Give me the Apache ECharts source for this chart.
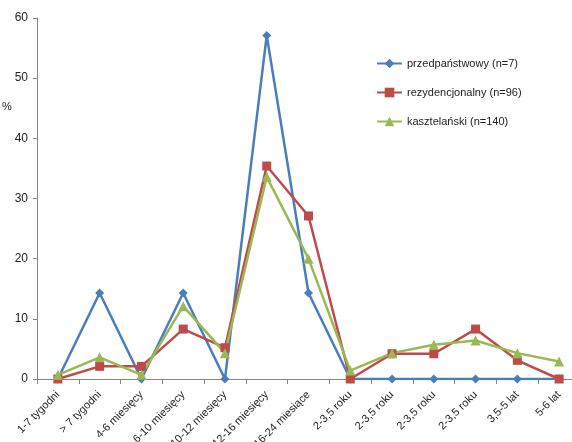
<!DOCTYPE html>
<html>
<head>
<meta charset="utf-8">
<script src="https://cdn.jsdelivr.net/npm/echarts@6/dist/echarts.min.js"></script>
<style>
html,body{margin:0;padding:0;background:#fff;}
#chart{width:572px;height:442px;}
</style>
</head>
<body>
<div id="chart"></div>
<script>
// Age groups on the category axis
const categories = ['1-7 tygodni', '> 7 tygodni', '4-6 miesięcy', '6-10 miesięcy', '10-12 miesięcy',
  '12-16 miesięcy', '16-24 miesiące', '2-3,5 roku', '2-3,5 roku', '2-3,5 roku', '2-3,5 roku',
  '3,5-5 lat', '5-6 lat'];

// Share of individuals (%) per age group
const przedpanstwowy = [0, 14.3, 0, 14.3, 0, 57.1, 14.3, 0, 0, 0, 0, 0, 0];
const rezydencjonalny = [0, 2.1, 2.1, 8.3, 5.2, 35.4, 27.1, 0, 4.2, 4.2, 8.3, 3.1, 0];
const kasztelanski = [0.7, 3.6, 0.7, 12.1, 4.3, 33.6, 20.0, 1.4, 4.3, 5.7, 6.4, 4.3, 2.9];

const seriesNames = ['przedpaństwowy (n=7)', 'rezydencjonalny (n=96)', 'kasztelański (n=140)'];

const font = '"Liberation Sans", Arial, sans-serif';

const chart = echarts.init(document.getElementById('chart'), null, { renderer: 'canvas' });

function lineSeries(name, data, color, symbol, size) {
  return {
    name: name,
    type: 'line',
    data: data,
    symbol: symbol,
    symbolSize: size,
    showAllSymbol: true,
    lineStyle: { color: color, width: 2.5 },
    itemStyle: { color: color },
    emphasis: { disabled: true },
    animation: false
  };
}

chart.setOption({
  animation: false,
  grid: { left: 37, top: 18, bottom: 63, right: -8, containLabel: false, outerBoundsMode: 'none' },
  legend: {
    orient: 'vertical',
    left: 371,
    top: 53,
    itemGap: 18,
    itemWidth: 25,
    itemHeight: 12,
    textStyle: { fontFamily: font, fontSize: 11, color: '#222' },
    data: seriesNames
  },
  graphic: [{
    type: 'text',
    left: 2,
    top: 101,
    style: { text: '%', fontFamily: font, fontSize: 11, fill: '#222' }
  }],
  xAxis: {
    type: 'category',
    data: categories,
    boundaryGap: true,
    axisLine: { lineStyle: { color: '#868686', width: 1 } },
    axisTick: { show: true, interval: 0, length: 5, lineStyle: { color: '#868686' } },
    axisLabel: {
      interval: 0,
      rotate: 45,
      margin: 14,
      fontFamily: font,
      fontSize: 11,
      color: '#222',
      hideOverlap: false
    },
    splitLine: { show: false }
  },
  yAxis: {
    type: 'value',
    min: 0,
    max: 60,
    interval: 10,
    axisLine: { show: true, lineStyle: { color: '#868686', width: 1 } },
    axisTick: { show: true, length: 4, lineStyle: { color: '#868686' } },
    axisLabel: { fontFamily: font, fontSize: 12, color: '#222', margin: 9 },
    splitLine: { show: false }
  },
  series: [
    lineSeries(seriesNames[0], przedpanstwowy, '#4a7ebb', 'diamond', 9),
    lineSeries(seriesNames[1], rezydencjonalny, '#be4b48', 'rect', 9),
    lineSeries(seriesNames[2], kasztelanski, '#98b954', 'triangle', 10)
  ]
});
</script>
</body>
</html>
